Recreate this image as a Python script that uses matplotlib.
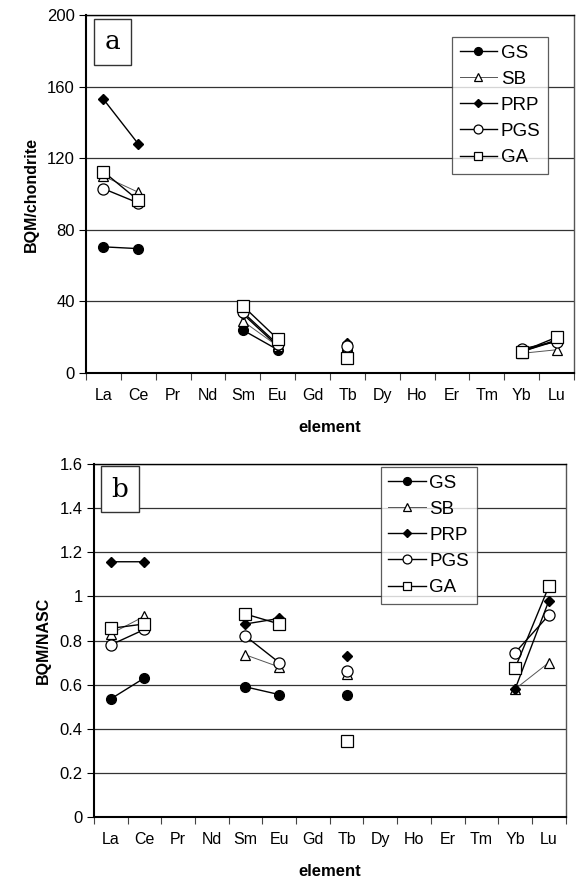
import numpy as np
import matplotlib.pyplot as plt

plt.rcParams['font.family'] = ['Liberation Sans', 'DejaVu Sans']

elements = ["La", "Ce", "Pr", "Nd", "Sm", "Eu", "Gd", "Tb", "Dy", "Ho", "Er", "Tm", "Yb", "Lu"]
series = ["GS", "SB", "PRP", "PGS", "GA"]
nan = np.nan

# panel a: normalised to chondrite
chon_gs = [70.5, 69.5, nan, nan, 24, 13, nan, 13, nan, nan, nan, nan, 12, 18]
chon_sb = [110, 101, nan, nan, 29, 15, nan, 14, nan, nan, nan, nan, 11, 13]
chon_prp = [153, 128, nan, nan, 33, 15, nan, 16.5, nan, nan, nan, nan, 12, 18.5]
chon_pgs = [103, 95, nan, nan, 34, 16, nan, 15, nan, nan, nan, nan, 13.5, 17.5]
chon_ga = [112.5, 96.5, nan, nan, 37.5, 19, nan, 8.5, nan, nan, nan, nan, 12, 20]

# panel b: normalised to NASC
nasc_gs = [0.535, 0.63, nan, nan, 0.59, 0.555, nan, 0.555, nan, nan, nan, nan, nan, nan]
nasc_sb = [0.83, 0.91, nan, nan, 0.735, 0.68, nan, 0.65, nan, nan, nan, nan, 0.58, 0.70]
nasc_prp = [1.157, 1.157, nan, nan, 0.875, 0.90, nan, 0.73, nan, nan, nan, nan, 0.58, 0.98]
nasc_pgs = [0.78, 0.85, nan, nan, 0.82, 0.70, nan, 0.66, nan, nan, nan, nan, 0.745, 0.915]
nasc_ga = [0.855, 0.875, nan, nan, 0.92, 0.875, nan, 0.345, nan, nan, nan, nan, 0.675, 1.045]

styles = {
    "GS": dict(marker="o", mfc="black", mec="black", ms=7, color="black", lw=1.0),
    "SB": dict(marker="^", mfc="white", mec="black", ms=7.5, color="#555555", lw=0.7, mew=0.9),
    "PRP": dict(marker="D", mfc="black", mec="black", ms=5.5, color="black", lw=1.0),
    "PGS": dict(marker="o", mfc="white", mec="black", ms=8, color="black", lw=1.0, mew=0.9),
    "GA": dict(marker="s", mfc="white", mec="black", ms=8, color="black", lw=1.0, mew=0.9),
}

fig = plt.figure(figsize=(5.79, 8.85), dpi=100)
ax_a = fig.add_axes([0.1485, 0.5785, 0.843, 0.4045])
ax_b = fig.add_axes([0.162, 0.0768, 0.815, 0.3989])


def draw(ax, data, ylim, yticks, ylabel, letter, letter_pos, legend_box):
    x = np.arange(len(elements))
    for name in series:
        ax.plot(x, data[name], label=name, zorder=3, **styles[name])
    ax.set_xlim(-0.5, len(elements) - 0.5)
    ax.set_ylim(*ylim)
    ax.set_yticks(yticks)
    ax.set_yticklabels([f"{t:g}" for t in yticks])
    ax.set_xticks(x)
    ax.set_xticklabels(elements)
    ax.set_xticks(np.arange(-0.5, len(elements)), minor=True)
    ax.tick_params(axis="x", which="major", length=0, pad=11, labelsize=11.5)
    ax.tick_params(axis="x", which="minor", length=5, direction="out", width=0.8, color="#444444")
    ax.tick_params(axis="y", length=5, direction="out", width=0.8, labelsize=12, pad=3)
    for t in yticks[1:]:
        ax.axhline(t, color="#333333", lw=0.9, zorder=1)
    for s in ["left", "bottom"]:
        ax.spines[s].set_linewidth(1.5)
    ax.spines["top"].set_linewidth(1.0)
    ax.spines["right"].set_color("#555555")
    ax.spines["right"].set_linewidth(1.0)
    ax.set_ylabel(ylabel, fontsize=11.5, fontweight="bold", labelpad=6)
    ax.set_xlabel("element", fontsize=12, fontweight="bold", labelpad=12)
    ax.text(letter_pos[0], letter_pos[1], letter, transform=ax.transAxes, fontsize=19,
            family="DejaVu Serif", ha="center", va="center",
            bbox=dict(boxstyle="square,pad=0.4", fc="white", ec="#333333", lw=1.0), zorder=5)
    leg = ax.legend(loc="upper left", bbox_to_anchor=legend_box, frameon=True, fancybox=False,
                    edgecolor="#333333", fontsize=13.5, handlelength=2.0, handletextpad=0.2,
                    labelspacing=0.48, borderpad=0.4, borderaxespad=0, markerscale=0.8)
    leg.get_frame().set_linewidth(0.9)
    leg.set_zorder(6)


draw(ax_a, {"GS": chon_gs, "SB": chon_sb, "PRP": chon_prp, "PGS": chon_pgs, "GA": chon_ga},
     (0, 200), [0, 40, 80, 120, 160, 200], "BQM/chondrite", "a", (0.054, 0.925),
     (0.75, 0.9385))
draw(ax_b, {"GS": nasc_gs, "SB": nasc_sb, "PRP": nasc_prp, "PGS": nasc_pgs, "GA": nasc_ga},
     (0, 1.6), [0, 0.2, 0.4, 0.6, 0.8, 1.0, 1.2, 1.4, 1.6], "BQM/NASC", "b", (0.055, 0.929),
     (0.608, 0.9915))

fig.savefig("out.png", dpi=100)
